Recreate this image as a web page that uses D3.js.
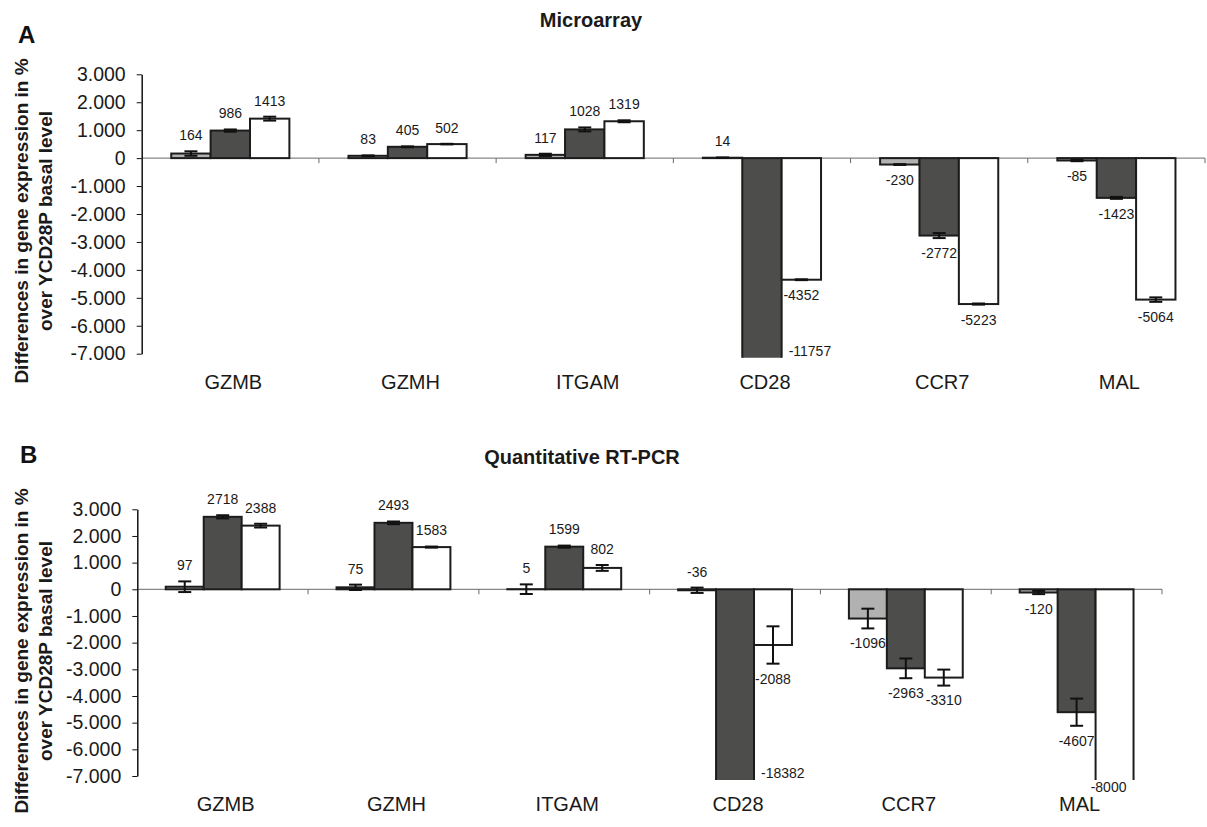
<!DOCTYPE html>
<html>
<head>
<meta charset="utf-8">
<script src="https://cdn.jsdelivr.net/npm/d3@7"></script>
<style>
  body { margin: 0; background: #fff; }
  svg { font-family: "Liberation Sans", Arial, sans-serif; }
</style>
</head>
<body>
<div id="wrapper"></div>
<script>
// categories (genes) and the three series per gene
const genes = ["GZMB", "GZMH", "ITGAM", "CD28", "CCR7", "MAL"]
const series = ["s1", "s2", "s3"]
const seriesFill = ["#b1b1b1", "#4d4d4b", "#ffffff"]
const yTicks = [3000, 2000, 1000, 0, -1000, -2000, -3000, -4000, -5000, -6000, -7000]

// A - microarray
const microS1 = [164, 83, 117, 14, -230, -85]
const microS2 = [986, 405, 1028, -11757, -2772, -1423]
const microS3 = [1413, 502, 1319, -4352, -5223, -5064]
const microErr1 = [80, 15, 40, 10, 15, 25]
const microErr2 = [40, 15, 70, 0, 90, 35]
const microErr3 = [70, 10, 35, 15, 20, 80]

// B - quantitative RT-PCR
const pcrS1 = [97, 75, 5, -36, -1096, -120]
const pcrS2 = [2718, 2493, 1599, -18382, -2963, -4607]
const pcrS3 = [2388, 1583, 802, -2088, -3310, -8000]
const pcrErr1 = [200, 100, 180, 100, 370, 60]
const pcrErr2 = [60, 50, 40, 0, 370, 510]
const pcrErr3 = [70, 20, 110, 700, 300, 0]

const width = 1207
const height = 827

const svg = d3.select("#wrapper")
  .append("svg")
  .attr("width", width)
  .attr("height", height)

const fmt = d3.formatLocale({decimal: ",", thousands: ".", grouping: [3], currency: ["", ""], minus: "-"}).format(",d")

function drawPanel(p) {
  const g = svg.append("g")

  const yScaler = d3.scaleLinear()
    .domain([-7000, 3000])
    .range([p.bottom, p.top])

  const xScaler = d3.scaleBand()
    .domain(genes)
    .range([p.left, p.right])

  const bw = xScaler.bandwidth() / 4.5
  const x1 = d3.scaleBand()
    .domain(series)
    .range([bw * 0.75, xScaler.bandwidth() - bw * 0.75])

  const clipId = "clip-" + p.id
  svg.append("clipPath").attr("id", clipId)
    .append("rect")
    .attr("x", 0).attr("y", 0)
    .attr("width", width).attr("height", p.bottom + 4)

  // rows for bars
  const rows = []
  genes.forEach((gene, i) => {
    series.forEach((s, j) => {
      rows.push({gene, j, v: p.values[j][i], e: p.errors[j][i]})
    })
  })

  // zero line + category ticks
  g.append("line")
    .attr("x1", p.left).attr("x2", p.right)
    .attr("y1", yScaler(0)).attr("y2", yScaler(0))
    .attr("stroke", "#6a6a6a").attr("stroke-width", 1)
  g.selectAll(".ctick")
    .data(genes)
    .join("line")
    .attr("x1", d => xScaler(d) + xScaler.bandwidth())
    .attr("x2", d => xScaler(d) + xScaler.bandwidth())
    .attr("y1", yScaler(0)).attr("y2", yScaler(0) + 5)
    .attr("stroke", "#6a6a6a").attr("stroke-width", 1)

  const bars = g.append("g").attr("clip-path", `url(#${clipId})`)
  bars.selectAll("rect")
    .data(rows)
    .join("rect")
    .attr("x", d => xScaler(d.gene) + x1(series[d.j]))
    .attr("width", x1.bandwidth())
    .attr("y", d => d.v >= 0 ? yScaler(d.v) : yScaler(0))
    .attr("height", d => {
      const end = Math.max(d.v, -7400)
      return Math.abs(yScaler(end) - yScaler(0))
    })
    .attr("fill", d => seriesFill[d.j])
    .attr("stroke", "#1c1c1c")
    .attr("stroke-width", 2)

  // error bars
  const errRows = rows.filter(d => d.e > 0 && d.v > -7000)
  const cap = 6.5
  const eg = g.append("g").attr("stroke", "#111").attr("stroke-width", 2)
  errRows.forEach(d => {
    const cx = xScaler(d.gene) + x1(series[d.j]) + x1.bandwidth() / 2
    const y1 = yScaler(d.v + d.e)
    const y2 = yScaler(d.v - d.e)
    eg.append("line").attr("x1", cx).attr("x2", cx).attr("y1", y1).attr("y2", y2)
    eg.append("line").attr("x1", cx - cap).attr("x2", cx + cap).attr("y1", y1).attr("y2", y1)
    eg.append("line").attr("x1", cx - cap).attr("x2", cx + cap).attr("y1", y2).attr("y2", y2)
  })

  // value labels
  g.selectAll(".vlabel")
    .data(rows)
    .join("text")
    .attr("font-size", 14)
    .attr("fill", "#1a1a1a")
    .attr("dy", "0.35em")
    .each(function(d) {
      const bx = xScaler(d.gene) + x1(series[d.j])
      const cx = bx + x1.bandwidth() / 2
      const t = d3.select(this).text(d.v)
      if (d.v < -7000) {
        if (d.j < series.length - 1) {
          t.attr("text-anchor", "start").attr("x", bx + x1.bandwidth() + 7).attr("y", p.bottom - 3)
        } else {
          t.attr("text-anchor", "middle").attr("x", cx - 6).attr("y", p.bottom + 11)
        }
      } else if (d.v >= 0 || d.e > Math.abs(d.v)) {
        t.attr("text-anchor", "middle").attr("x", cx).attr("y", yScaler(d.v + d.e) - 16)
      } else {
        t.attr("text-anchor", "middle").attr("x", cx).attr("y", yScaler(d.v - d.e) + 15)
      }
    })

  // y axis
  const yAxis = g.append("g")
    .attr("transform", `translate(${p.left},0)`)
    .call(d3.axisLeft(yScaler).tickValues(yTicks).tickFormat(fmt).tickSize(5).tickSizeOuter(0).tickPadding(11))
  yAxis.select(".domain").attr("stroke", "#111").attr("stroke-width", 1.5)
  yAxis.selectAll(".tick line").attr("stroke", "#111")
  yAxis.selectAll(".tick text")
    .attr("font-size", 19.5)
    .attr("font-family", "Liberation Sans, Arial, sans-serif")
    .attr("fill", "#1a1a1a")

  // category labels along the bottom
  const xAxis = g.append("g")
    .attr("transform", `translate(3,${p.bottom})`)
    .call(d3.axisBottom(xScaler).tickSize(0).tickPadding(21))
  xAxis.select(".domain").remove()
  xAxis.selectAll(".tick text")
    .attr("font-size", 20)
    .attr("font-family", "Liberation Sans, Arial, sans-serif")
    .attr("fill", "#1a1a1a")

  // y title
  const tg = g.append("text")
    .attr("transform", `translate(0,${p.titleY}) rotate(-90)`)
    .attr("text-anchor", "middle")
    .attr("font-weight", "bold")
    .attr("font-size", 19)
    .attr("fill", "#1a1a1a")
  tg.append("tspan").attr("x", 0).attr("y", 28).text("Differences in gene expression in %")
  tg.append("tspan").attr("x", 0).attr("y", 52).text("over YCD28P basal level")

  // chart title and panel letter
  g.append("text")
    .attr("x", p.headX).attr("y", p.headY)
    .attr("text-anchor", "middle")
    .attr("font-weight", "bold").attr("font-size", 20)
    .attr("fill", "#1a1a1a")
    .text(p.title)
  g.append("text")
    .attr("x", p.letterX).attr("y", p.letterY)
    .attr("font-weight", "bold").attr("font-size", 24)
    .attr("fill", "#111")
    .text(p.letter)
}

drawPanel({
  id: "a", letter: "A", title: "Microarray",
  values: [microS1, microS2, microS3],
  errors: [microErr1, microErr2, microErr3],
  left: 141.7, right: 1205, top: 74.3, bottom: 353.7,
  titleY: 221, headX: 591, headY: 26.5, letterX: 18, letterY: 43
})

drawPanel({
  id: "b", letter: "B", title: "Quantitative RT-PCR",
  values: [pcrS1, pcrS2, pcrS3],
  errors: [pcrErr1, pcrErr2, pcrErr3],
  left: 137.3, right: 1162, top: 509.3, bottom: 776,
  titleY: 651, headX: 582, headY: 464, letterX: 20, letterY: 463
})
</script>
</body>
</html>
